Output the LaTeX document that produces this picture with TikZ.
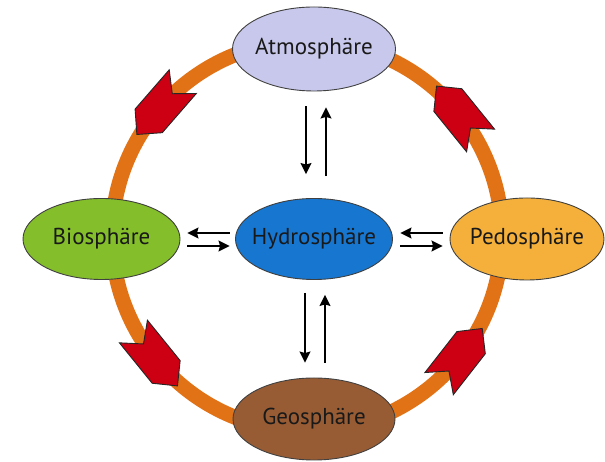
\documentclass[tikz,border=0pt]{standalone}
\usepackage{fontspec}
\setmainfont{PT Sans}
\usetikzlibrary{shapes.geometric,arrows.meta}
\definecolor{ringc}{RGB}{226,114,22}
\definecolor{redc}{RGB}{204,0,18}
\definecolor{atmc}{RGB}{200,200,236}
\definecolor{bioc}{RGB}{132,190,42}
\definecolor{hydc}{RGB}{22,118,208}
\definecolor{pedc}{RGB}{244,176,58}
\definecolor{geoc}{RGB}{152,92,52}
\newcommand{\sphtxt}[1]{\makebox[0pt][c]{#1}}
\begin{document}
\begin{tikzpicture}[x=1pt,y=1pt,
  sphere/.style={ellipse, draw=black!75, line width=0.9pt, inner sep=0pt,
    font=\fontsize{23}{27}\selectfont, text=black!90},
  redarr/.style={fill=redc, draw=black!85, line width=0.9pt, line join=miter},
  bk/.style={line width=1.6pt, -{Stealth[length=11pt,width=11pt,inset=1.5pt]}}]
\useasboundingbox (0,0) rectangle (605,462);
% ring
\draw[ringc, line width=15pt] (307,226) circle (195);
% red chevrons (counterclockwise)
\foreach \a in {39,139,219,322}{
  \begin{scope}[shift={(307,226)}, shift={(\a:195)}, rotate=\a+90]
    \draw[redarr] (-35,18) -- (-19,0) -- (-35,-18) -- (17,-18) -- (35,0) -- (17,18) -- cycle;
  \end{scope}
}
% spheres
\node[sphere, fill=atmc, minimum width=163pt, minimum height=84pt] (atm) at (314,413) {\sphtxt{Atmosphäre}};
\node[sphere, fill=bioc, minimum width=157pt, minimum height=81pt] (bio) at (101.5,223) {\sphtxt{Biosphäre}};
\node[sphere, fill=hydc, minimum width=157pt, minimum height=81pt] (hyd) at (314,223) {\sphtxt{Hydrosphäre}};
\node[sphere, fill=pedc, minimum width=154pt, minimum height=82pt] (ped) at (527,223) {\sphtxt{Pedosphäre}};
\node[sphere, fill=geoc, minimum width=162pt, minimum height=82pt] (geo) at (314,43) {\sphtxt{Geosphäre}};
% exchange arrows
\draw[bk, shorten <=15pt, shorten >=24pt] ([xshift=-8pt]atm.south) -- ([xshift=-8pt]hyd.north);
\draw[bk, shorten <=22pt, shorten >=16pt] ([xshift=12pt]hyd.north) -- ([xshift=12pt]atm.south);
\draw[bk, shorten <=13pt, shorten >=15pt] ([xshift=-9pt]hyd.south) -- ([xshift=-9pt]geo.north);
\draw[bk, shorten <=15pt, shorten >=15pt] ([xshift=11pt]geo.north) -- ([xshift=11pt]hyd.south);
\draw[bk, shorten <=5.5pt, shorten >=7pt] ([yshift=6pt]hyd.west) -- ([yshift=6pt]bio.east);
\draw[bk, shorten <=7pt, shorten >=5.5pt] ([yshift=-7pt]bio.east) -- ([yshift=-7pt]hyd.west);
\draw[bk, shorten <=7pt, shorten >=7.5pt] ([yshift=6pt]ped.west) -- ([yshift=6pt]hyd.east);
\draw[bk, shorten <=7.5pt, shorten >=7pt] ([yshift=-7pt]hyd.east) -- ([yshift=-7pt]ped.west);
\end{tikzpicture}
\end{document}
